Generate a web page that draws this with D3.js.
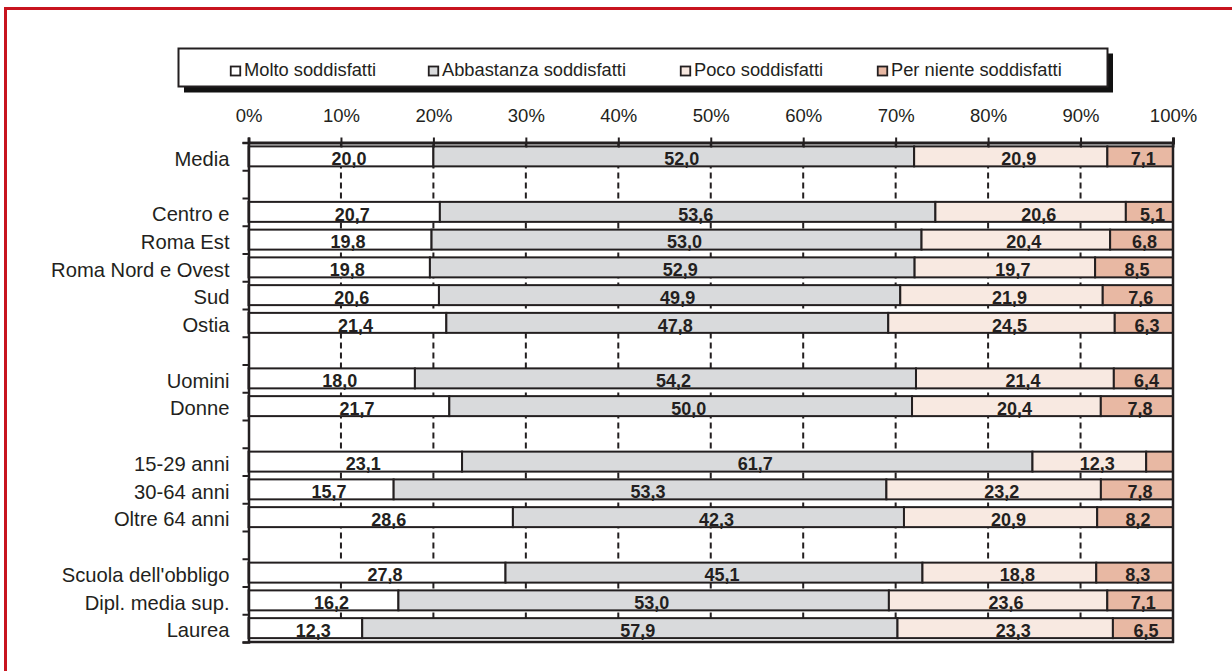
<!DOCTYPE html>
<html>
<head>
<meta charset="utf-8">
<script src="https://cdn.jsdelivr.net/npm/d3@7"></script>
<style>
  html, body { margin: 0; padding: 0; background: #fff; }
  svg { display: block; font-family: Arial, "Liberation Sans", Helvetica, sans-serif; }
</style>
</head>
<body>
<svg id="chart" width="1232" height="671"></svg>
<script>
// Row labels (empty strings are spacer rows between groups)
const categories = ["Media", "", "Centro e", "Roma Est", "Roma Nord e Ovest", "Sud", "Ostia", "",
  "Uomini", "Donne", "", "15-29 anni", "30-64 anni", "Oltre 64 anni", "",
  "Scuola dell'obbligo", "Dipl. media sup.", "Laurea"];

// Satisfaction shares (%) per row; null on spacer rows
const molto      = [20.0, null, 20.7, 19.8, 19.8, 20.6, 21.4, null, 18.0, 21.7, null, 23.1, 15.7, 28.6, null, 27.8, 16.2, 12.3];
const abbastanza = [52.0, null, 53.6, 53.0, 52.9, 49.9, 47.8, null, 54.2, 50.0, null, 61.7, 53.3, 42.3, null, 45.1, 53.0, 57.9];
const poco       = [20.9, null, 20.6, 20.4, 19.7, 21.9, 24.5, null, 21.4, 20.4, null, 12.3, 23.2, 20.9, null, 18.8, 23.6, 23.3];
const perNiente  = [ 7.1, null,  5.1,  6.8,  8.5,  7.6,  6.3, null,  6.4,  7.8, null,  2.9,  7.8,  8.2, null,  8.3,  7.1,  6.5];

const seriesNames = ["Molto soddisfatti", "Abbastanza soddisfatti", "Poco soddisfatti", "Per niente soddisfatti"];
const seriesColors = ["#ffffff", "#d9dadc", "#f8e9e1", "#e8b8a3"];
const tickValues = [0, 0.1, 0.2, 0.3, 0.4, 0.5, 0.6, 0.7, 0.8, 0.9, 1];

const svg = d3.select("#chart");
const ink = "#231f20";

// Outer red frame
svg.append("rect")
  .attr("x", 5.5).attr("y", 8.5)
  .attr("width", 1400).attr("height", 800)
  .attr("fill", "none")
  .attr("stroke", "#c8141f")
  .attr("stroke-width", 3);

// Plot area
const plotL = 248.5, plotR = 1173, plotT = 142.5, plotB = 642;

const x = d3.scaleLinear().domain([0, 1]).range([plotL, plotR]);
const rowIds = d3.range(categories.length);
const y = d3.scaleBand().domain(rowIds).range([plotT, plotB]).paddingInner(0.28).paddingOuter(0.14);
const yEdge = d3.scaleLinear().domain([0, categories.length]).range([plotT, plotB]);

// Build stacked (100%) data
const rows = rowIds.map(i => ({
  id: i,
  [seriesNames[0]]: molto[i] ?? 0,
  [seriesNames[1]]: abbastanza[i] ?? 0,
  [seriesNames[2]]: poco[i] ?? 0,
  [seriesNames[3]]: perNiente[i] ?? 0,
  empty: molto[i] == null
}));
const stacked = d3.stack().keys(seriesNames).offset(d3.stackOffsetExpand)(rows.filter(r => !r.empty));

// Dashed vertical gridlines
svg.append("g")
  .selectAll("line")
  .data(tickValues.slice(1, -1))
  .join("line")
  .attr("x1", d => x(d)).attr("x2", d => x(d))
  .attr("y1", plotT).attr("y2", plotB)
  .attr("stroke", ink)
  .attr("stroke-width", 2)
  .attr("stroke-dasharray", "6,4");

// Bars
const layers = svg.append("g")
  .selectAll("g")
  .data(stacked)
  .join("g")
  .attr("fill", (d, i) => seriesColors[i]);

layers.selectAll("rect")
  .data(d => d)
  .join("rect")
  .attr("x", d => x(d[0]))
  .attr("y", d => y(d.data.id))
  .attr("width", d => x(d[1]) - x(d[0]))
  .attr("height", y.bandwidth())
  .attr("stroke", ink)
  .attr("stroke-width", 2);

// Value labels, starting just left of each segment's middle (omitted where too narrow)
layers.selectAll("text")
  .data(d => d.map(p => ({ p, key: d.key })).filter(o => x(o.p[1]) - x(o.p[0]) > 30))
  .join("text")
  .attr("x", d => (x(d.p[0]) + x(d.p[1])) / 2 - 9.5)
  .attr("y", d => y(d.p.data.id) + y.bandwidth() - 1.2)
  .attr("text-anchor", "start")
  .attr("fill", ink)
  .attr("font-size", 18)
  .attr("font-weight", "bold")
  .text(d => d3.format(".1f")(d.p.data[d.key]).replace(".", ","));

// Frame: right and bottom borders
svg.append("line")
  .attr("x1", plotR).attr("x2", plotR).attr("y1", plotT).attr("y2", plotB + 1)
  .attr("stroke", ink).attr("stroke-width", 2.5);
svg.append("line")
  .attr("x1", plotL).attr("x2", plotR + 1).attr("y1", plotB).attr("y2", plotB)
  .attr("stroke", ink).attr("stroke-width", 2.5);

// Top percentage axis with cross ticks
const xAxis = svg.append("g")
  .attr("transform", `translate(0,${plotT})`)
  .call(d3.axisTop(x).tickValues(tickValues).tickFormat(d3.format(".0%")).tickSize(5).tickPadding(16));
xAxis.select(".domain").attr("stroke", ink).attr("stroke-width", 3);
xAxis.selectAll(".tick line").attr("y1", 5).attr("y2", -5).attr("stroke", ink).attr("stroke-width", 2);
xAxis.selectAll(".tick text")
  .attr("font-size", 18.5)
  .attr("font-family", "Arial, 'Liberation Sans', sans-serif")
  .attr("fill", ink);

// Left axis: boundary ticks
const yTicks = svg.append("g")
  .attr("transform", `translate(${plotL},0)`)
  .call(d3.axisLeft(yEdge).tickValues(d3.range(categories.length + 1)).tickFormat("").tickSize(6));
yTicks.select(".domain").attr("stroke", ink).attr("stroke-width", 2.5);
yTicks.selectAll(".tick line").attr("stroke", ink).attr("stroke-width", 2);

// Left axis: category labels
const yLabels = svg.append("g")
  .attr("transform", `translate(${plotL},0)`)
  .call(d3.axisLeft(y).tickFormat(i => categories[i]).tickSize(0).tickPadding(19));
yLabels.select(".domain").remove();
yLabels.selectAll(".tick text")
  .attr("font-size", 20.2)
  .attr("font-family", "Arial, 'Liberation Sans', sans-serif")
  .attr("fill", ink)
  .attr("dy", "0.46em");

// Legend box with drop shadow
const legend = svg.append("g");
legend.append("rect")
  .attr("x", 184).attr("y", 53.5).attr("width", 929).attr("height", 39)
  .attr("fill", "#111");
legend.append("rect")
  .attr("x", 178.5).attr("y", 48.5).attr("width", 929).attr("height", 38)
  .attr("fill", "#fff").attr("stroke", ink).attr("stroke-width", 2);

const legendX = [230, 428, 680, 877];
const items = legend.selectAll("g.item")
  .data(seriesNames)
  .join("g")
  .attr("class", "item")
  .attr("transform", (d, i) => `translate(${legendX[i]},0)`);
items.append("rect")
  .attr("x", 0.75).attr("y", 66.5).attr("width", 9.5).attr("height", 9)
  .attr("fill", (d, i) => seriesColors[i])
  .attr("stroke", ink).attr("stroke-width", 1.8);
items.append("text")
  .attr("x", 14).attr("y", 76)
  .attr("font-size", 18.3)
  .attr("fill", ink)
  .text(d => d);
</script>
</body>
</html>
